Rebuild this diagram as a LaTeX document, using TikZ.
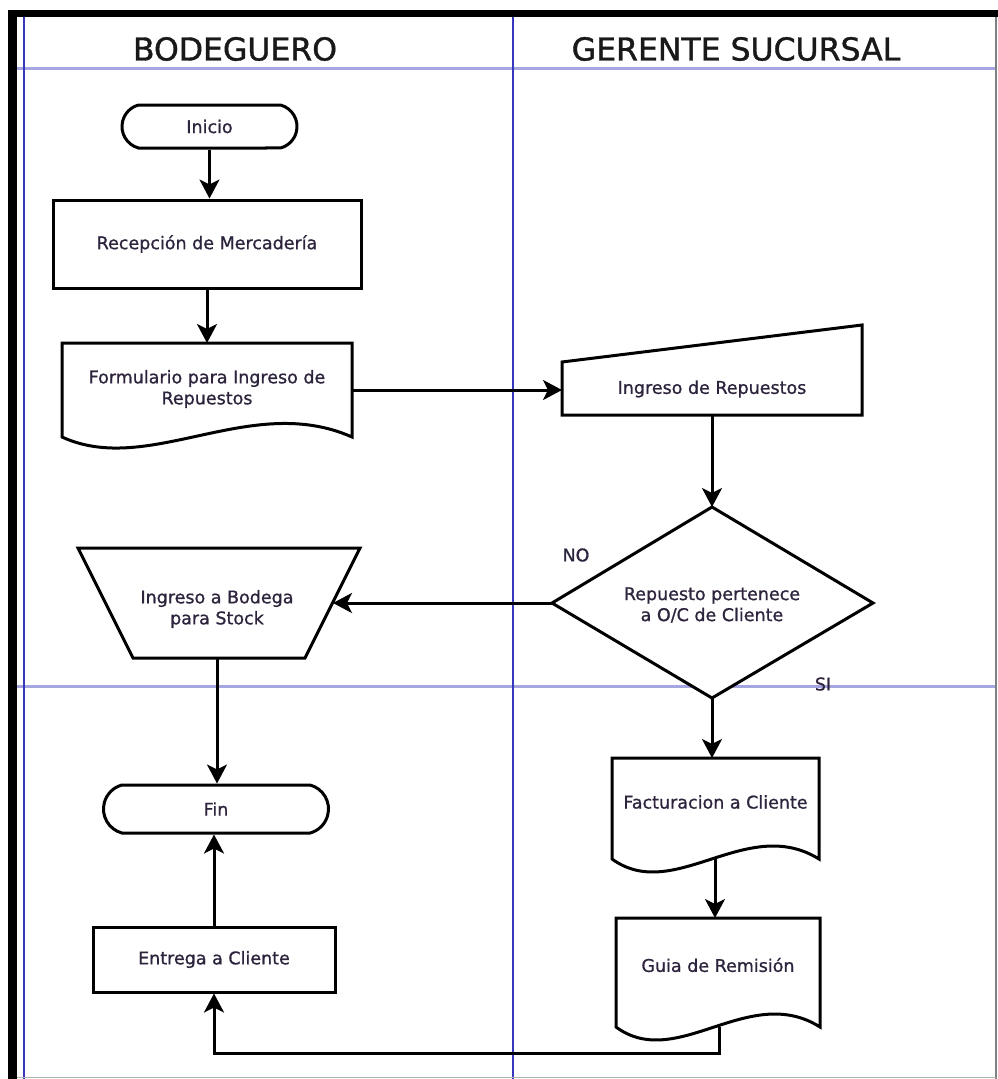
\documentclass[tikz,border=0pt]{standalone}
\usepackage{fontspec}
\setmainfont{DejaVu Sans}
\newfontfamily\lblfont[FakeBold=0.9]{DejaVu Sans}
\newfontfamily\headfont[FakeBold=1.2]{DejaVu Sans}
\usetikzlibrary{arrows.meta,shapes.misc}
\definecolor{lanebl}{RGB}{55,55,190}
\definecolor{lanelav}{RGB}{165,165,225}
\definecolor{txt}{RGB}{45,35,60}
\begin{document}
\begin{tikzpicture}[x=1pt,y=-1pt,
  shp/.style={draw=black,line width=3pt,fill=white,line join=miter},
  lbl/.style={font=\lblfont\fontsize{17.5}{21}\selectfont,text=txt,align=center,inner sep=0pt},
  conn/.style={line width=3pt,-{Stealth[length=19pt,width=20pt,inset=5pt]}},
  head/.style={font=\headfont\fontsize{31.5}{36}\selectfont,text=black!90,inner sep=0pt},
  term/.style={shp,rounded rectangle,rounded rectangle arc length=150,lbl},
  procbox/.style={shp,rectangle,lbl}]
\useasboundingbox[fill=white] (0,0) rectangle (998,1079);
% frame and lanes
\draw[lanelav,line width=3pt] (17,68) -- (996,68);
\draw[lanelav,line width=3pt] (17,686) -- (996,686);
\draw[lanebl,line width=1.4pt] (24,17) -- (24,1079);
\draw[lanebl,line width=1.4pt] (513,17) -- (513,1079);
\draw[gray,line width=1.5pt] (996,17) -- (996,1079);
\draw[gray!60,line width=1.2pt] (17,1077.5) -- (996,1077.5);
\fill[black] (8,10) rectangle (998,17);
\fill[black] (8,10) rectangle (17,1079);
% headings
\node[head] (h1) at (235,49) {BODEGUERO};
\node[head] (h2) at (736,49) {GERENTE SUCURSAL};
% Inicio / Recepcion
\node[term,minimum width=175pt,minimum height=43pt] (inicio) at (209.5,126.5) {Inicio};
\node[procbox,minimum width=308pt,minimum height=88pt] (recep) at (207,244) {Recepción de Mercadería};
% Formulario (document)
\draw[shp] (62,437) -- (62,343) -- (352,343) -- (352,437)
  .. controls (250.5,392) and (149,477) .. (62,437) -- cycle;
\node[lbl] (form) at (207,389) {Formulario para Ingreso de\\Repuestos};
\coordinate (formT) at (207,343);
\coordinate (formR) at (352,390);
% Ingreso de Repuestos (manual input)
\draw[shp] (562,362) -- (862,325) -- (862,415) -- (562,415) -- cycle;
\node[lbl] (ingr) at (712,389) {Ingreso de Repuestos};
\coordinate (ingrL) at (562,390);
\coordinate (ingrB) at (712,415);
% decision
\draw[shp] (712,507) -- (873,603) -- (712,698) -- (552,603) -- cycle;
\node[lbl] (dec) at (712,605) {Repuesto pertenece\\a O/C de Cliente};
\coordinate (dT) at (712,507);
\coordinate (dL) at (552,603);
\coordinate (dB) at (712,698);
\node[lbl] (no) at (576,555) {NO};
\node[lbl] (si) at (823,684) {SI};
% Ingreso a Bodega (manual operation)
\draw[shp] (78,548) -- (360,548) -- (305,658) -- (133,658) -- cycle;
\node[lbl] (bod) at (217,609) {Ingreso a Bodega\\para Stock};
\coordinate (bodR) at (333,603);
\coordinate (bodB) at (217,658);
% Fin / Entrega
\node[term,minimum width=225pt,minimum height=48pt] (fin) at (216,809) {Fin};
\node[procbox,minimum width=242pt,minimum height=65pt] (entr) at (214,959.5) {Entrega a Cliente};
% Facturacion (document)
\draw[shp] (612,859) -- (612,758) -- (819,758) -- (819,859)
  .. controls (746.6,814) and (674.1,904) .. (612,859) -- cycle;
\node[lbl] (fact) at (715.5,802) {Facturacion a Cliente};
\coordinate (factT) at (712,758);
\coordinate (factB) at (715,859);
% Guia (document)
\draw[shp] (616,1027) -- (616,918) -- (820,918) -- (820,1027)
  .. controls (748.6,982) and (677.2,1072) .. (616,1027) -- cycle;
\node[lbl] (guia) at (718,965) {Guia de Remisión};
\coordinate (guiaT) at (715,918);
\coordinate (guiaB) at (719,1027);
\coordinate (corner) at (719,1053);
% connectors
\draw[conn] (inicio.south) -- (inicio.south |- recep.north);
\draw[conn] (recep.south) -- (formT);
\draw[conn] (formR) -- (ingrL);
\draw[conn] (ingrB) -- (dT);
\draw[conn] (dL) -- (bodR);
\draw[conn] (bodB) -- (bodB |- fin.north);
\draw[conn] (dB) -- (factT);
\draw[conn] (factB) -- (guiaT);
\draw[conn] (entr.north) -- (entr.north |- fin.south);
\draw[conn] (guiaB) -- (corner) -| (entr.south);
\end{tikzpicture}
\end{document}
